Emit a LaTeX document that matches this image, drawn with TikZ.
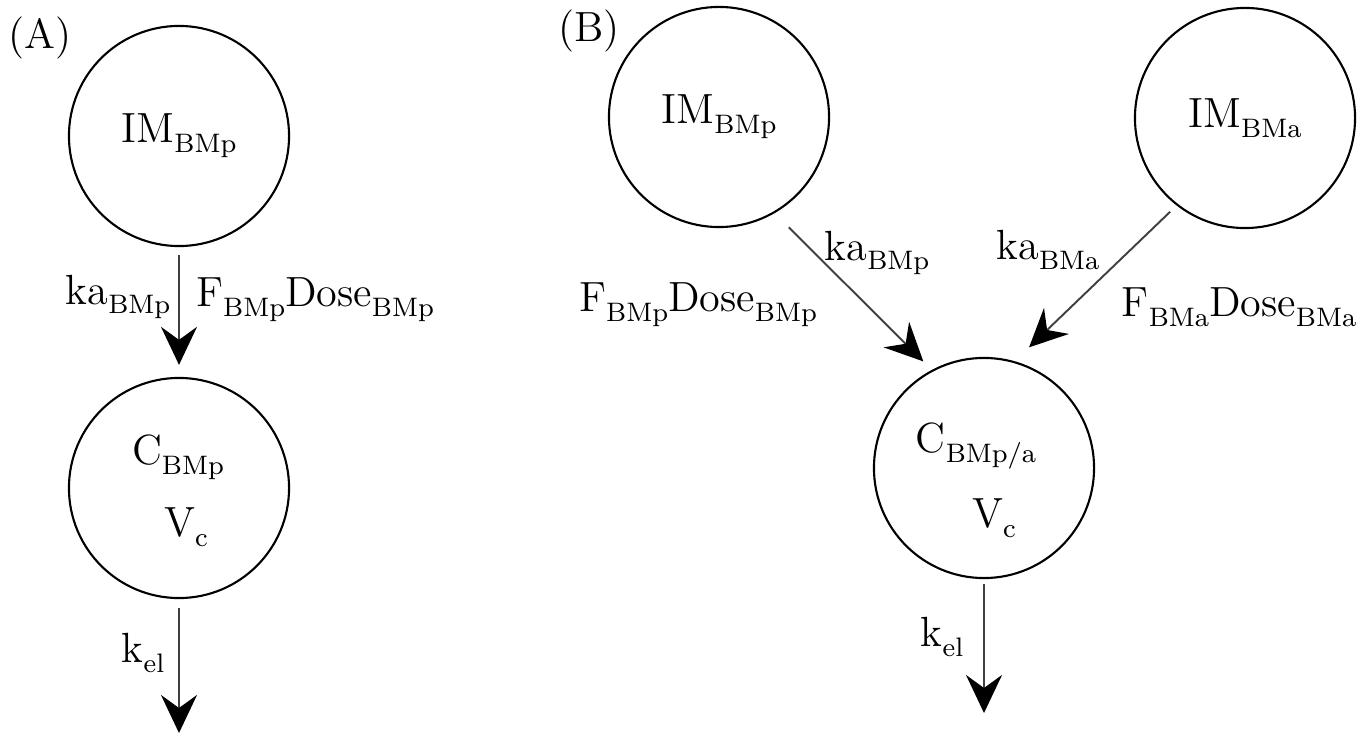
\documentclass[tikz,border=0pt]{standalone}
\usetikzlibrary{arrows.meta}

\newcommand{\lowsub}[1]{\raisebox{-2.8pt}{\fontsize{7.6}{9}\selectfont #1}}

\begin{document}
\begin{tikzpicture}[x=0.01cm, y=-0.01cm,
    every node/.style={font=\fontsize{12}{15}\selectfont},
    comp/.style={circle, draw=black, line width=0.6pt, minimum size=2.2cm, inner sep=0pt},
    flow/.style={draw=black!75, line width=0.55pt, -{Stealth[length=0.38cm, width=0.36cm, inset=0.13cm, black]}}]

  \useasboundingbox (0,0) rectangle (1370,737);

  % (A) one depot
  \node (lblA) at (40,38) {(A)};
  \node[comp] (ima) at (179,136) {IM\lowsub{BMp}};
  \node[comp] (ca) at (179,488) {};
  \node (cbmp) at (178,457) {C\lowsub{BMp}};
  \node (vca) at (186,527) {V\lowsub{c}};
  \coordinate (outa) at (179,733);

  \draw[flow, shorten <=0.08cm, shorten >=0.12cm] (ima) -- (ca);
  \draw[flow, shorten <=0.09cm] (ca) -- (outa);
  \node (kaA) at (118,297) {ka\lowsub{BMp}};
  \node (fdA) at (315,300) {F\lowsub{BMp}Dose\lowsub{BMp}};
  \node (kelA) at (143,653) {k\lowsub{el}};

  % (B) two depots
  \node (lblB) at (589,31) {(B)};
  \node[comp] (imp) at (719,117) {IM\lowsub{BMp}};
  \node[comp] (imBMa) at (1245,118) {IM\lowsub{BMa}};
  \node[comp] (cpa) at (984,468) {};
  \node (cbmpa) at (976,446) {C\lowsub{BMp/a}};
  \node (vcb) at (994,518) {V\lowsub{c}};
  \coordinate (outb) at (984,713);

  \draw[flow, shorten <=0.2cm, shorten >=0.12cm] (imp.-60.6) -- (cpa.118.6);
  \draw[flow, shorten <=0.09cm, shorten >=0.2cm] (imBMa.232.9) -- (cpa.74.6);
  \draw[flow, shorten <=0.05cm] (cpa) -- (outb);
  \node (kaBp) at (877,253) {ka\lowsub{BMp}};
  \node (fdBp) at (698,305) {F\lowsub{BMp}Dose\lowsub{BMp}};
  \node (kaBa) at (1048,250) {ka\lowsub{BMa}};
  \node (fdBa) at (1239,307) {F\lowsub{BMa}Dose\lowsub{BMa}};
  \node (kelB) at (942,637) {k\lowsub{el}};
\end{tikzpicture}
\end{document}
